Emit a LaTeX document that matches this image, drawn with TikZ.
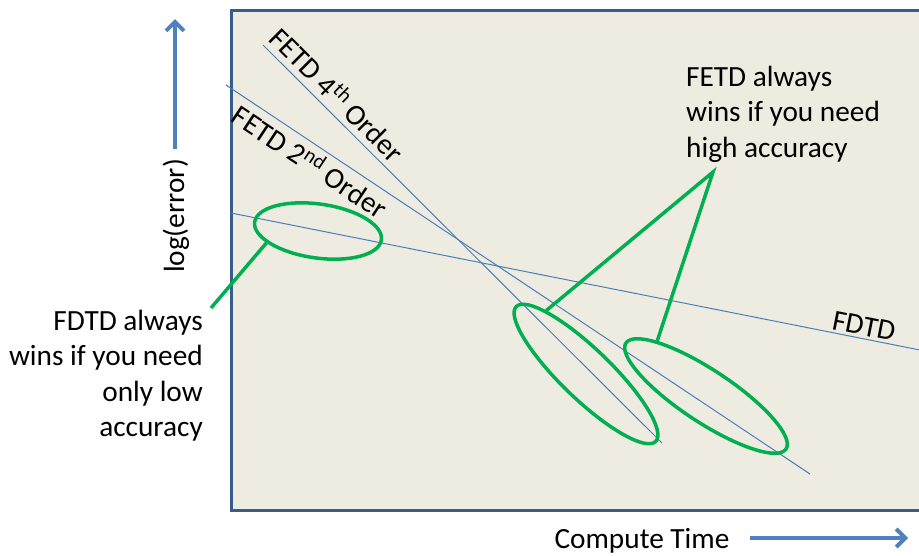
\documentclass[tikz,border=0pt]{standalone}
\usepackage{fontspec}
\setmainfont{Carlito}
\usetikzlibrary{arrows.meta,shapes.geometric}
\definecolor{panelfill}{HTML}{EEECE1}
\definecolor{paneledge}{HTML}{385D8A}
\definecolor{trendblue}{HTML}{4A7EBB}
\definecolor{axisblue}{HTML}{4F81BD}
\definecolor{markgreen}{HTML}{00B050}
\begin{document}
\begin{tikzpicture}[x=1pt,y=-1pt,
  lbl/.style={font=\fontsize{29.3}{35.3}\selectfont, inner sep=0pt, text=black},
  trend/.style={draw=trendblue, line width=1pt},
  ring/.style={draw=markgreen, line width=3.5pt, ellipse, inner sep=0pt},
  callout/.style={draw=markgreen, line width=3.5pt},
  axisarrow/.style={draw=axisblue, line width=4pt, -{Straight Barb[length=9pt,width=18pt]}}
]
\useasboundingbox (0,0) rectangle (919,555);
\begin{scope}
\clip (0,0) rectangle (919,555);
% plot panel
\draw[fill=panelfill, draw=paneledge, line width=3pt] (231,10) rectangle (935,510);

% trend lines
\coordinate (fdtdA) at (231,213);
\coordinate (fdtdB) at (930,352);
\coordinate (ord2A) at (226,85);
\coordinate (ord2B) at (810,474);
\coordinate (ord4A) at (263,45);
\coordinate (ord4B) at (662,443);
\draw[trend] (fdtdA) -- (fdtdB);
\draw[trend] (ord2A) -- (ord2B);
\draw[trend] (ord4A) -- (ord4B);

% highlighted regions
\node[ring, minimum width=128pt, minimum height=54pt, rotate=-8] (low) at (318,231) {};
\node[ring, minimum width=194pt, minimum height=50pt, rotate=-44] (mid) at (586,374) {};
\node[ring, minimum width=192pt, minimum height=52pt, rotate=-33.5] (right) at (706,396) {};

% callouts
\coordinate (lowTail) at (211,308);
\coordinate (highApex) at (713,172);
\draw[callout] (low.201) -- (lowTail);
\draw[callout] (mid.166) -- (highApex) -- (right.165);

% axes
\coordinate (yTail) at (175,149);
\coordinate (yTip) at (175,19);
\coordinate (xTail) at (750,538);
\coordinate (xTip) at (908,538);
\draw[axisarrow] (yTail) -- (yTip);
\draw[axisarrow] (xTail) -- (xTip);

% labels
\node[lbl, anchor=north west, align=left] (highTxt) at (686,66) {FETD always\\wins if you need\\high accuracy};
\node[lbl, anchor=north east, align=right] (lowTxt) at (203,310) {FDTD always\\wins if you need\\only low\\accuracy};
\node[lbl, rotate=90, anchor=base] (yLbl) at (184,216) {log(error)};
\node[lbl, anchor=base] (xLbl) at (642,548) {Compute Time};
\node[lbl, rotate=-11.3] (fdtdLbl) at (864,326) {FDTD};
\node[lbl, rotate=-45] (ord4Lbl) at (338,94) {FETD 4\textsuperscript{th} Order};
\node[lbl, rotate=-33.7] (ord2Lbl) at (311,161) {FETD 2\textsuperscript{nd} Order};
\end{scope}
\end{tikzpicture}
\end{document}
